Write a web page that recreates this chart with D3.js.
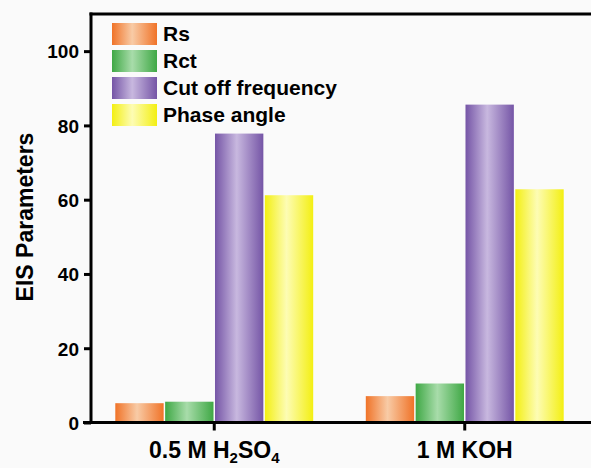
<!DOCTYPE html>
<html>
<head>
<meta charset="utf-8">
<script src="https://cdn.jsdelivr.net/npm/d3@7"></script>
<style>
	body { margin: 0; background: #fafafa; }
	svg { display: block; }
	text { font-family: "Liberation Sans", Arial, sans-serif; font-weight: bold; fill: #000; }
</style>
</head>
<body>
<div id="chart"></div>
<script>
// data
var categories = ["0.5 M H2SO4", "1 M KOH"];
var seriesNames = ["Rs", "Rct", "Cut off frequency", "Phase angle"];
var rsValues = [5.2, 7.1];
var rctValues = [5.6, 10.5];
var cutoffValues = [77.8, 85.6];
var phaseValues = [61.2, 62.8];
var yTicks = [0, 20, 40, 60, 80, 100];

// colours: [edge, centre] of each bar's shading
var seriesColors = [
	["#f07328", "#f8cba6"],
	["#3fa845", "#a8dcaa"],
	["#7555a6", "#c8b8df"],
	["#f3ef12", "#fdfcb4"]
];

var width = 591, height = 468;
var plotLeft = 91, plotTop = 14, plotBottom = 422.5;

var svg = d3.select("#chart").append("svg")
	.attr("width", width)
	.attr("height", height);

var defs = svg.append("defs");
seriesColors.forEach(function (c, i) {
	var g = defs.append("linearGradient")
		.attr("id", "grad" + i)
		.attr("x1", "0").attr("x2", "1").attr("y1", "0").attr("y2", "0");
	g.append("stop").attr("offset", "0%").attr("stop-color", c[0]);
	g.append("stop").attr("offset", "45%").attr("stop-color", c[1]);
	g.append("stop").attr("offset", "100%").attr("stop-color", c[0]);
});

var x0 = d3.scaleBand()
	.domain(categories)
	.range([89, 590])
	.paddingInner(0.21)
	.paddingOuter(0.105);

var x1 = d3.scaleBand()
	.domain(seriesNames)
	.range([0, x0.bandwidth()])
	.paddingInner(0.03);

var y = d3.scaleLinear()
	.domain([0, 110])
	.range([plotBottom, plotTop]);

// build rows for the bars
var allSeries = [rsValues, rctValues, cutoffValues, phaseValues];
var rows = [];
for (var c = 0; c < categories.length; c++) {
	for (var s = 0; s < seriesNames.length; s++) {
		rows.push({ cat: categories[c], name: seriesNames[s], idx: s, value: allSeries[s][c] });
	}
}

svg.append("g").selectAll("rect").data(rows)
	.enter().append("rect")
	.attr("x", function (d) { return x0(d.cat) + x1(d.name); })
	.attr("y", function (d) { return y(d.value); })
	.attr("width", x1.bandwidth())
	.attr("height", function (d) { return y(0) - y(d.value); })
	.attr("fill", function (d) { return "url(#grad" + d.idx + ")"; });

// y axis
var yAxis = svg.append("g")
	.attr("transform", "translate(" + plotLeft + ",0)")
	.call(d3.axisLeft(y).tickValues(yTicks).tickSize(7).tickPadding(5));
yAxis.select(".domain").remove();
yAxis.selectAll(".tick line").attr("stroke", "#000").attr("stroke-width", 3);
yAxis.selectAll(".tick text").style("font-size", "19px").attr("dy", "0.36em");

// x axis
var xAxis = svg.append("g")
	.attr("transform", "translate(0," + plotBottom + ")")
	.call(d3.axisBottom(x0).tickSize(8).tickFormat(""));
xAxis.select(".domain").remove();
xAxis.selectAll(".tick line").attr("stroke", "#000").attr("stroke-width", 3);

// category labels with subscripts
svg.append("g").selectAll("text").data(categories)
	.enter().append("text")
	.attr("x", function (d) { return x0(d) + x0.bandwidth() / 2; })
	.attr("y", 458)
	.attr("text-anchor", "middle")
	.style("font-size", "23px")
	.each(function (d) {
		var t = d3.select(this);
		var parts = d.split(/(\d+)/);
		var sub = false;
		for (var i = 0; i < parts.length; i++) {
			if (parts[i] === "") continue;
			var isSub = /^\d+$/.test(parts[i]) && i > 0 && /[A-Z]$/.test(parts[i - 1]);
			var ts = t.append("tspan").text(parts[i]);
			if (isSub) {
				ts.attr("dy", sub ? 0 : 5).style("font-size", "15px");
				sub = true;
			} else if (sub) {
				ts.attr("dy", -5);
				sub = false;
			}
		}
	});

// frame lines: left, bottom, top
svg.append("line")
	.attr("x1", plotLeft).attr("x2", plotLeft)
	.attr("y1", plotTop - 1.5).attr("y2", plotBottom + 1.5)
	.attr("stroke", "#000").attr("stroke-width", 3);
svg.append("line")
	.attr("x1", 83).attr("x2", width)
	.attr("y1", plotBottom).attr("y2", plotBottom)
	.attr("stroke", "#000").attr("stroke-width", 3);
svg.append("line")
	.attr("x1", plotLeft - 1.5).attr("x2", width)
	.attr("y1", plotTop).attr("y2", plotTop)
	.attr("stroke", "#000").attr("stroke-width", 3);

// y title
svg.append("text")
	.attr("transform", "translate(33,217) rotate(-90)")
	.attr("text-anchor", "middle")
	.style("font-size", "23px")
	.text("EIS Parameters");

// legend
var legend = svg.append("g").selectAll("g").data(seriesNames)
	.enter().append("g")
	.attr("transform", function (d, i) { return "translate(112," + (23 + i * 27) + ")"; });
legend.append("rect")
	.attr("width", 45)
	.attr("height", 22)
	.attr("fill", function (d, i) { return "url(#grad" + i + ")"; });
legend.append("text")
	.attr("x", 51)
	.attr("y", 18)
	.style("font-size", "21px")
	.text(function (d) { return d; });
</script>
</body>
</html>
